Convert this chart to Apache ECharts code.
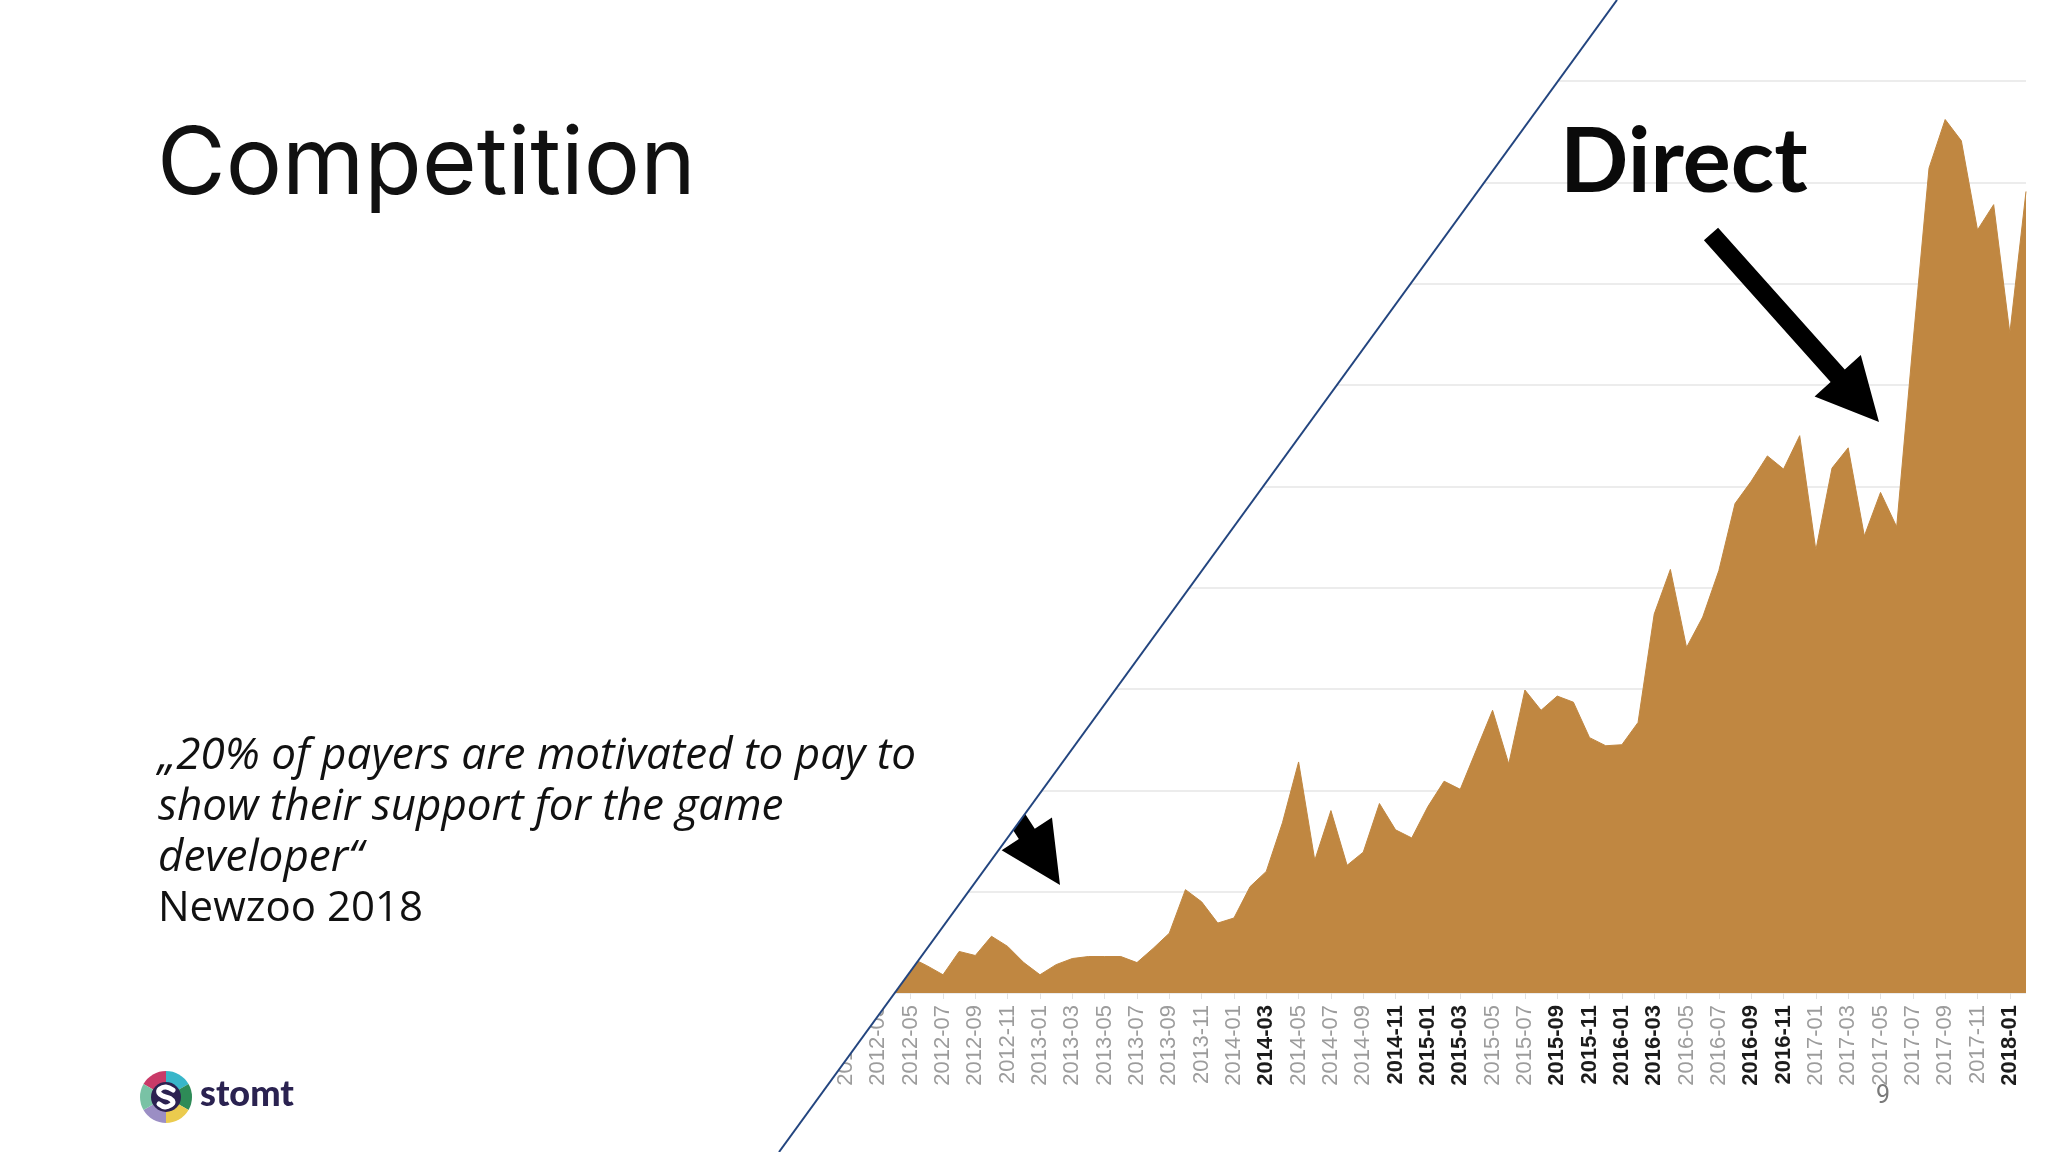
<!DOCTYPE html>
<html><head><meta charset="utf-8">
<script src="https://cdn.jsdelivr.net/npm/echarts@6/dist/echarts.min.js"></script>
<style>html,body{margin:0;padding:0;background:#fff;}#c{width:2048px;height:1152px;}</style>
</head><body><div id="c"></div>
<script>
const months = [
 '2012-01','2012-02','2012-03','2012-04','2012-05','2012-06','2012-07','2012-08','2012-09','2012-10','2012-11','2012-12',
 '2013-01','2013-02','2013-03','2013-04','2013-05','2013-06','2013-07','2013-08','2013-09','2013-10','2013-11','2013-12',
 '2014-01','2014-02','2014-03','2014-04','2014-05','2014-06','2014-07','2014-08','2014-09','2014-10','2014-11','2014-12',
 '2015-01','2015-02','2015-03','2015-04','2015-05','2015-06','2015-07','2015-08','2015-09','2015-10','2015-11','2015-12',
 '2016-01','2016-02','2016-03','2016-04','2016-05','2016-06','2016-07','2016-08','2016-09','2016-10','2016-11','2016-12',
 '2017-01','2017-02','2017-03','2017-04','2017-05','2017-06','2017-07','2017-08','2017-09','2017-10','2017-11','2017-12',
 '2018-01','2018-02'];
const values = [
 0.15,0.20,0.25,0.30,0.35,0.27,0.18,0.41,0.37,0.56,0.46,0.30,
 0.18,0.28,0.34,0.36,0.36,0.36,0.30,0.44,0.59,1.02,0.90,0.69,
 0.74,1.05,1.20,1.68,2.28,1.31,1.80,1.26,1.39,1.87,1.61,1.53,
 1.84,2.09,2.01,2.40,2.79,2.26,2.99,2.79,2.93,2.87,2.52,2.44,
 2.45,2.67,3.74,4.18,3.41,3.71,4.17,4.83,5.05,5.30,5.17,5.50,
 4.37,5.18,5.38,4.51,4.94,4.60,6.40,8.14,8.62,8.41,7.53,7.78,
 6.51,7.91];
const boldLabels = ['2014-03','2014-11','2015-01','2015-03','2015-09','2015-11','2016-01','2016-03','2016-09','2016-11','2018-01'];
const yMin = 0, yMax = 9, yInterval = 1;
const titleText = 'Competition';
const quoteLines = ['\u201E20% of payers are motivated to pay to','show their support for the game','developer\u201C'];
const sourceText = 'Newzoo 2018';
const calloutText = 'Direct';
const pageNumber = '9';

function arrow(tail, tip, sw, hw, hl) {
  const dx = tip[0]-tail[0], dy = tip[1]-tail[1], L = Math.hypot(dx,dy);
  const ux = dx/L, uy = dy/L, px = -uy, py = ux;
  const bx = tip[0]-ux*hl, by = tip[1]-uy*hl;
  return [[tail[0]+px*sw/2, tail[1]+py*sw/2],[bx+px*sw/2, by+py*sw/2],[bx+px*hw/2, by+py*hw/2],tip,
          [bx-px*hw/2, by-py*hw/2],[bx-px*sw/2, by-py*sw/2],[tail[0]-px*sw/2, tail[1]-py*sw/2]];
}

const chart = echarts.init(document.getElementById('c'), null, {renderer:'canvas'});
const AREA = '#C08741';
const logoC = [166, 1097];
const logoColors = ['#C93A68','#38B6C9','#2E8B57','#EBCB4E','#9B8EC4','#79C2A5'];
const logoSectors = logoColors.map((c,i)=>({
  type:'sector', z:120,
  shape:{cx:logoC[0], cy:logoC[1], r:26, r0:0, startAngle: -Math.PI/2 - Math.PI/3 + i*Math.PI/3, endAngle: -Math.PI/2 + i*Math.PI/3},
  style:{fill:c}
}));
const textFont = 'Open Sans';

const option = {
  backgroundColor:'#ffffff',
  animation:false,
  grid:{left:846, right:22, top:81, bottom:159, containLabel:false},
  xAxis:{
    type:'category', data:months, boundaryGap:false,
    axisLine:{show:false},
    axisTick:{show:true, interval:1, length:6, lineStyle:{color:'#e2e2e2'}},
    axisLabel:{
      interval:1, rotate:90, margin:12,
      formatter: v => (boldLabels.indexOf(v) >= 0 ? '{b|'+v+'}' : '{n|'+v+'}'),
      rich:{
        b:{fontFamily:'Liberation Sans', fontWeight:'bold', fontSize:22, color:'#1c1c1c'},
        n:{fontFamily:'Liberation Sans', fontSize:22, color:'#9c9c9c'}
      }
    },
    splitLine:{show:false}
  },
  yAxis:{
    type:'value', min:yMin, max:yMax, interval:yInterval,
    axisLabel:{show:false}, axisLine:{show:false}, axisTick:{show:false},
    splitLine:{lineStyle:{color:'#ececec', width:2}}
  },
  series:[{
    type:'line', data:values, symbol:'none', smooth:false,
    lineStyle:{color:AREA, width:1},
    areaStyle:{color:AREA, opacity:1},
    z:2
  }],
  graphic:{elements:[
    {type:'polygon', z:50, shape:{points:arrow([1711,234],[1879,422],19,62,62)}, style:{fill:'#000'}},
    {type:'polygon', z:50, shape:{points:arrow([940,700],[1060,885],19,60,61)}, style:{fill:'#000'}},
    {type:'polygon', z:100, shape:{points:[[0,0],[1617,0],[779,1152],[0,1152]]}, style:{fill:'#ffffff'}},
    {type:'line', z:101, shape:{x1:1617,y1:0,x2:779,y2:1152}, style:{stroke:'#23457F', lineWidth:2}},
    {type:'text', z:110, x:157, y:166, style:{text:titleText, font:'400 94px Inter', fill:'#111', align:'left', verticalAlign:'middle'}},
    {type:'text', z:110, x:158, y:756, style:{text:quoteLines[0], font:'italic 400 44px "'+textFont+'"', fill:'#111', align:'left', verticalAlign:'middle'}},
    {type:'text', z:110, x:158, y:807, style:{text:quoteLines[1], font:'italic 400 44px "'+textFont+'"', fill:'#111', align:'left', verticalAlign:'middle'}},
    {type:'text', z:110, x:158, y:858, style:{text:quoteLines[2], font:'italic 400 44px "'+textFont+'"', fill:'#111', align:'left', verticalAlign:'middle'}},
    {type:'text', z:110, x:158, y:909, style:{text:sourceText, font:'400 42px "'+textFont+'"', fill:'#111', align:'left', verticalAlign:'middle'}},
    {type:'text', z:110, x:1560, y:163, style:{text:calloutText, font:'bold 90px Lato', fill:'#0a0a0a', align:'left', verticalAlign:'middle'}},
    {type:'text', z:110, x:1883, y:1097, style:{text:pageNumber, font:'400 25px Roboto', fill:'#7a7a7a', align:'center', verticalAlign:'middle'}},
    ...logoSectors,
    {type:'circle', z:121, shape:{cx:logoC[0], cy:logoC[1], r:15}, style:{fill:'#2B2150'}},
    {type:'polyline', z:122, shape:{points:[[173,1090],[166,1087],[160,1089],[159,1093],[163,1096],[170,1098.5],[173,1102],[171,1105],[165,1107],[159,1104]], smooth:0.4}, style:{stroke:'#ffffff', lineWidth:5, fill:null, lineCap:'round'}},
    {type:'text', z:110, x:200, y:1094, style:{text:'stomt', font:'900 36px Lato', fill:'#2A2250', align:'left', verticalAlign:'middle'}}
  ]}
};
chart.setOption(option);
</script>
</body></html>
